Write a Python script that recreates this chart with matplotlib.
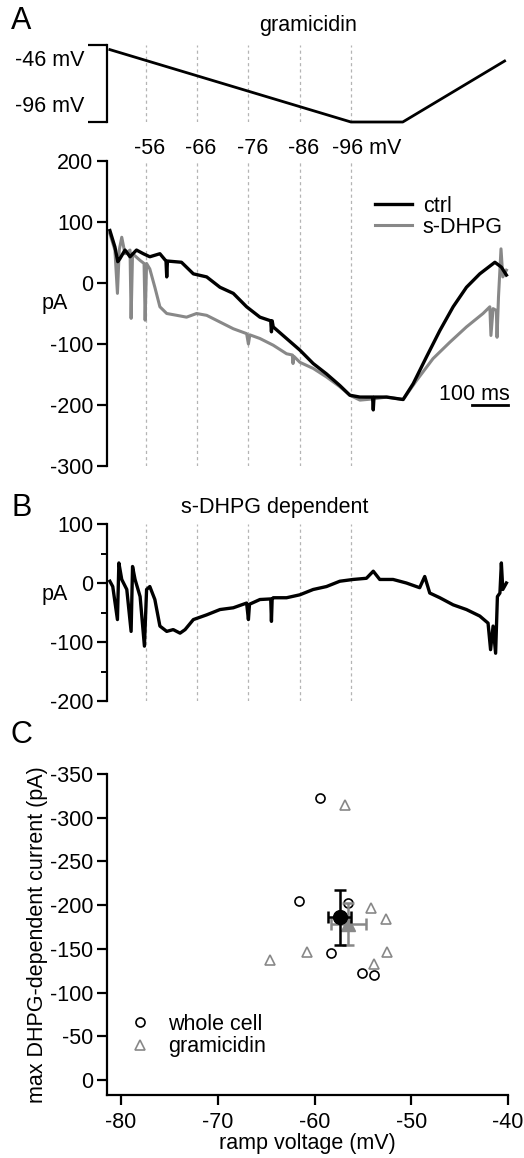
import numpy as np
import matplotlib
matplotlib.use("Agg")
import matplotlib.pyplot as plt
from matplotlib.ticker import MultipleLocator

plt.rcParams['font.family'] = ['Liberation Sans', 'DejaVu Sans']
plt.rcParams['font.size'] = 15.5
plt.rcParams['axes.unicode_minus'] = False

FS = 15.5

# -----------------------------
# Data
# -----------------------------
# voltage ramp protocol (time in ms, voltage in mV)
ramp_t = [8, 678, 822, 1105]
ramp_v = [-49, -96, -96, -56.4]

# time points where the ramp crosses -56 ... -96 mV
mark_t = [108, 250, 393, 536, 678]
mark_labels = ["-56", "-66", "-76", "-86", "-96 mV"]

# A: ramp currents (pA)
ctrl_t = [8, 22, 30, 36, 50, 64, 82, 101, 119, 147, 164, 166, 168, 207, 240, 277, 314,
          351, 388, 425, 455, 457, 459, 462, 499, 536, 573, 610, 647, 675, 703, 738, 740,
          742, 777, 823, 851, 888, 925, 962, 999, 1036, 1078, 1096, 1110]
ctrl_i = [86, 59, 35, 40, 54, 43, 54, 48, 43, 48, 36, 10, 36, 34, 15, 10, -7,
          -17, -39, -56, -62, -80, -62, -72, -91, -110, -132, -149, -168, -184, -187, -187, -208,
          -187, -187, -191, -165, -121, -78, -39, -7, 15, 34, 26, 13]

dhpg_t = [8, 22, 29, 34, 41, 50, 64, 67, 71, 92, 103, 106, 110, 119, 133, 147, 166, 194,
          221, 249, 277, 314, 351, 388, 393, 397, 425, 462, 499, 515, 517, 519, 536, 573, 610,
          647, 675, 703, 740, 777, 823, 860, 906, 953, 999, 1045, 1064, 1067, 1073, 1082, 1084,
          1088, 1095, 1100, 1110]
dhpg_i = [81, 54, -17, 54, 75, 48, 54, -58, 48, 37, 32, -61, 32, 23, -7, -39, -50, -53,
          -56, -50, -53, -64, -75, -83, -100, -85, -91, -102, -116, -118, -132, -120, -130, -140, -154,
          -170, -184, -192, -190, -187, -191, -160, -124, -97, -72, -50, -39, -86, -42, -45, -89,
          -23, 56, 10, 21]

# B: s-DHPG dependent current (pA)
diff_t = [8, 16, 29, 33, 41, 55, 67, 71, 78, 92, 104, 110, 119, 133, 147, 166, 184, 203,
          217, 240, 277, 314, 351, 388, 393, 396, 425, 455, 457, 459, 462, 499, 536, 573, 610,
          647, 684, 721, 740, 758, 795, 832, 869, 883, 897, 925, 962, 999, 1036, 1059, 1066,
          1073, 1080, 1085, 1092, 1096, 1100, 1110]
diff_i = [3, -6, -62, 34, 6, -11, -82, 28, 6, -23, -107, -11, -6, -28, -73, -82, -79, -85,
          -79, -62, -54, -45, -42, -34, -62, -36, -28, -27, -65, -27, -25, -25, -20, -11, -6,
          3, 6, 8, 20, 6, 6, 0, -8, 11, -17, -25, -37, -45, -56, -68, -113,
          -73, -119, -23, -17, 34, -11, 0]

# C: max DHPG-dependent current vs ramp voltage
wc_v = [-59.4, -61.6, -56.5, -58.3, -55.1, -53.8]
wc_i = [-322, -205, -202, -145, -122, -120]
wc_mean = (-57.4, -186)
wc_sem = (1.2, 31)

gr_v = [-56.9, -54.2, -52.6, -60.8, -64.6, -52.5, -53.8]
gr_i = [-315, -197, -184, -147, -137, -146, -133]
gr_mean = (-56.5, -178)
gr_sem = (1.8, 24)

GRAY = "#888888"
DASH = "#b4b4b4"

W, H = 524, 1158
fig = plt.figure(figsize=(W / 100, H / 100), dpi=100)


def px_axes(l, t, r, b):
    return fig.add_axes([l / W, 1 - b / H, (r - l) / W, (b - t) / H])


def fx(x):
    return x / W


def fy(y):
    return 1 - y / H


def trace_style(ax):
    for s in ["top", "right", "bottom"]:
        ax.spines[s].set_visible(False)
    ax.spines["left"].set_linewidth(1.6)
    ax.tick_params(axis="x", bottom=False, labelbottom=False)
    ax.tick_params(axis="y", direction="out", length=7, width=1.6, pad=3, labelsize=FS)
    ax.tick_params(axis="y", which="minor", direction="out", length=4, width=1.4)
    for t in mark_t:
        ax.axvline(t, color=DASH, lw=0.9, ls=(0, (2.5, 2.5)), zorder=0)


# -----------------------------
# A: ramp
# -----------------------------
axr = px_axes(107, 45, 510, 122)
axr.plot(ramp_t, ramp_v, color="black", lw=2, clip_on=False)
axr.set_xlim(0, 1120)
axr.set_ylim(-96, -46)
trace_style(axr)
axr.set_yticks([-46, -96])
axr.set_yticklabels([])
axr.tick_params(axis="y", length=14, width=1.6)
for v, off in [(-46, -16), (-96, 16)]:
    axr.annotate(f"{v} mV", xy=(0, v), xycoords=("axes fraction", "data"),
                 xytext=(-16, off * 0.72), textcoords="offset points",
                 ha="right", va="center", fontsize=FS)
axr.set_title("gramicidin", fontsize=FS, pad=10)

for t, lab in zip(mark_t, mark_labels):
    if lab.endswith("mV"):
        axr.annotate(lab, xy=(t, 0), xycoords=("data", "axes fraction"),
                     xytext=(-14, -26 * 0.72), textcoords="offset points",
                     ha="left", va="center", fontsize=FS)
    else:
        axr.annotate(lab, xy=(t, 0), xycoords=("data", "axes fraction"),
                     xytext=(3, -26 * 0.72), textcoords="offset points",
                     ha="center", va="center", fontsize=FS)

fig.text(fx(11), fy(21), "A", fontsize=22, ha="left", va="center")

# -----------------------------
# A: currents
# -----------------------------
axa = px_axes(107, 161, 510, 466)
axa.plot(ctrl_t, ctrl_i, color="black", lw=2.4, label="ctrl", zorder=3)
axa.plot(dhpg_t, dhpg_i, color=GRAY, lw=2.2, label="s-DHPG", zorder=2)
axa.set_xlim(0, 1120)
axa.set_ylim(-300, 200)
trace_style(axa)
axa.yaxis.set_major_locator(MultipleLocator(100))
axa.set_ylabel("pA", rotation=0, fontsize=FS)
axa.yaxis.set_label_coords(-0.129, 0.5)
axa.legend(loc="upper left", bbox_to_anchor=(fx(375), fy(196)),
           bbox_transform=fig.transFigure, frameon=False, fontsize=FS,
           handlelength=1.72, handletextpad=0.5, labelspacing=0.0, borderpad=0,
           borderaxespad=0)

# scale bar: 100 ms
axa.plot([1014, 1114], [-200, -200], color="black", lw=2, clip_on=False)
axa.text(1022, -191, "100 ms", ha="center", va="baseline", fontsize=FS)

# -----------------------------
# B: difference current
# -----------------------------
fig.text(fx(11), fy(508), "B", fontsize=22, ha="left", va="center")
axb = px_axes(107, 524, 510, 701)
axb.plot(diff_t, diff_i, color="black", lw=2.4)
axb.set_xlim(0, 1120)
axb.set_ylim(-200, 100)
trace_style(axb)
axb.yaxis.set_major_locator(MultipleLocator(100))
axb.yaxis.set_minor_locator(MultipleLocator(50))
axb.set_ylabel("pA", rotation=0, fontsize=FS)
axb.yaxis.set_label_coords(-0.129, 0.54)
fig.text(fx(275), fy(508), "s-DHPG dependent", fontsize=FS, ha="center", va="center")

# -----------------------------
# C: scatter
# -----------------------------
fig.text(fx(11), fy(735), "C", fontsize=22, ha="left", va="center")
axc = px_axes(107, 774, 508, 1095)
axc.plot(wc_v, wc_i, ls="none", marker="o", ms=6.5, mfc="none", mec="black", mew=1.2,
         label="whole cell", zorder=3)
axc.plot(gr_v, gr_i, ls="none", marker="^", ms=7.5, mfc="none", mec=GRAY, mew=1.2,
         label="gramicidin", zorder=3)
axc.errorbar(gr_mean[0], gr_mean[1], xerr=gr_sem[0], yerr=gr_sem[1], fmt="^", ms=10,
             color=GRAY, ecolor=GRAY, elinewidth=1.8, capsize=4, capthick=1.8, zorder=4)
axc.errorbar(wc_mean[0], wc_mean[1], xerr=wc_sem[0], yerr=wc_sem[1], fmt="o", ms=10,
             color="black", ecolor="black", elinewidth=1.8, capsize=4, capthick=1.8, zorder=5)
axc.set_xlim(-81.45, -40)
axc.set_ylim(17, -350)
for s in ["top", "right"]:
    axc.spines[s].set_visible(False)
for s in ["left", "bottom"]:
    axc.spines[s].set_linewidth(1.6)
axc.xaxis.set_major_locator(MultipleLocator(10))
axc.yaxis.set_major_locator(MultipleLocator(50))
axc.tick_params(direction="out", length=7, width=1.6, labelsize=FS, pad=3)
axc.tick_params(axis="x", pad=5)
axc.set_xlabel("ramp voltage (mV)", fontsize=FS, labelpad=0)
axc.set_ylabel("max DHPG-dependent current (pA)", fontsize=FS, labelpad=1)
axc.legend(loc="upper left", bbox_to_anchor=(fx(129), fy(1014)),
           bbox_transform=fig.transFigure, frameon=False, fontsize=FS,
           handlelength=1.0, handletextpad=0.8, labelspacing=0.05, borderpad=0,
           borderaxespad=0)

fig.savefig("out.png", dpi=100)
